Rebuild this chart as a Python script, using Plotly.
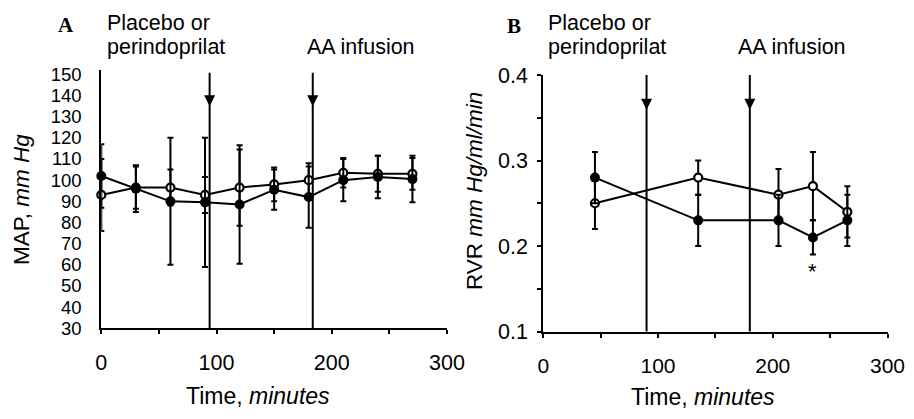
import plotly.graph_objects as go

# ---------------- data ----------------
time_a = [0, 30, 60, 90, 120, 150, 180, 210, 240, 270]
map_filled = [102, 96, 90, 89.5, 88.5, 95.5, 92, 100, 101.5, 100.5]
map_filled_err = [15, 11, 30, 30.5, 28, 9.5, 14.5, 10, 10, 11]
map_open = [93, 96.5, 96.5, 93, 96.5, 98, 100, 103.5, 103, 103]
map_open_err = [17, 10, 8.5, 8.5, 18, 8, 8, 7, 8.5, 7.5]
arrow_times_a = [94, 183.5]

time_b = [45, 135, 205, 235, 265]
rvr_filled = [0.28, 0.23, 0.23, 0.21, 0.23]
rvr_filled_err = [0.03, 0.03, 0.03, 0.02, 0.03]
rvr_open = [0.25, 0.28, 0.26, 0.27, 0.24]
rvr_open_err = [0.03, 0.02, 0.03, 0.04, 0.03]
arrow_times_b = [90, 180]
sig_index_b = [3]

# ---------------- layout helpers ----------------
# the page body adds an 8px margin on every side; keep the figure inside the window
OX, OY = 8, 8
W, H = 914 - 2 * OX, 419 - 2 * OY
def px(x):
    return (x - OX) / W
def py(y):
    return 1 - (y - OY) / H

FONT = "Liberation Sans, Arial, sans-serif"
SERIF = "Liberation Serif, Times New Roman, serif"
range_a = [30, 152]
range_b = [0.1, 0.4]

fig = go.Figure()

def add_series(x, y, err, filled, xa, ya):
    fig.add_trace(go.Scatter(
        x=x, y=y, xaxis=xa, yaxis=ya, mode="lines+markers",
        line=dict(color="black", width=2),
        marker=dict(size=10 if filled else 8,
                    color="black" if filled else "white",
                    line=dict(color="black", width=0 if filled else 2.2)),
        error_y=dict(type="data", array=err, visible=True, color="black",
                     thickness=2, width=3),
        cliponaxis=False, showlegend=False))

# open first, filled on top
add_series(time_a, map_open, map_open_err, False, "x", "y")
add_series(time_a, map_filled, map_filled_err, True, "x", "y")
add_series(time_b, rvr_open, rvr_open_err, False, "x2", "y2")
add_series(time_b, rvr_filled, rvr_filled_err, True, "x2", "y2")

# arrows (vertical lines + heads)
for t in arrow_times_a:
    fig.add_shape(type="line", xref="x", yref="y domain", x0=t, x1=t, y0=0, y1=0.99,
                  line=dict(color="black", width=2))
for t in arrow_times_b:
    fig.add_shape(type="line", xref="x2", yref="y2 domain", x0=t, x1=t, y0=0, y1=1,
                  line=dict(color="black", width=2))
head_a = range_a[0] + 0.86 * (range_a[1] - range_a[0])
head_b = range_b[0] + 0.865 * (range_b[1] - range_b[0])
fig.add_trace(go.Scatter(x=arrow_times_a, y=[head_a] * len(arrow_times_a), xaxis="x", yaxis="y",
                         mode="markers", marker=dict(symbol="arrow-down", size=11, color="black"),
                         showlegend=False, cliponaxis=False))
fig.add_trace(go.Scatter(x=arrow_times_b, y=[head_b] * len(arrow_times_b), xaxis="x2", yaxis="y2",
                         mode="markers", marker=dict(symbol="arrow-down", size=11, color="black"),
                         showlegend=False, cliponaxis=False))

# significance asterisk
for i in sig_index_b:
    fig.add_annotation(x=time_b[i], y=rvr_filled[i] - rvr_filled_err[i], xref="x2", yref="y2",
                       text="*", showarrow=False, yanchor="top", yshift=-2,
                       font=dict(family=FONT, size=22, color="black"))

axis_common = dict(showline=True, linecolor="black", linewidth=2, showgrid=False,
                   zeroline=False, automargin=False, ticklabeloverflow="allow",
                   tickfont=dict(family=FONT, size=21.5, color="black"),
                   tickcolor="black", tickwidth=1.5)

fig.update_layout(
    width=W, height=H, margin=dict(l=0, r=0, t=0, b=0, autoexpand=False),
    paper_bgcolor="white", plot_bgcolor="white",
    xaxis=dict(domain=[px(101.3), px(447)], range=[0, 300], anchor="y",
               tickvals=[0, 100, 200, 300], ticks="outside", ticklen=4,
               ticklabelstandoff=10,
               minor=dict(tickvals=[50, 150, 250], ticks="outside", ticklen=4,
                          tickcolor="black", tickwidth=1.5),
               **axis_common),
    yaxis=dict(domain=[py(328.3), py(70.1)], range=range_a, anchor="x",
               dtick=10, tick0=30, ticks="", ticklabelstandoff=14, **axis_common),
    xaxis2=dict(domain=[px(543.3), px(887.5)], range=[0, 300], anchor="y2",
                tickvals=[0, 100, 200, 300], ticks="outside", ticklen=4,
                ticklabelstandoff=10,
                minor=dict(tickvals=[50, 150, 250], ticks="outside", ticklen=4,
                           tickcolor="black", tickwidth=1.5),
                **axis_common),
    yaxis2=dict(domain=[py(331.5), py(75)], range=range_b, anchor="x2",
                tickvals=[0.1, 0.2, 0.3, 0.4], ticktext=["0.1", "0.2", "0.3", "0.4"],
                ticks="outside", ticklen=4, ticklabelstandoff=5,
                minor=dict(tickvals=[0.15, 0.25, 0.35], ticks="outside", ticklen=4,
                           tickcolor="black", tickwidth=1.5),
                **axis_common),
)
fig.update_xaxes(tickfont=dict(family=FONT, size=21, color="black"), selector=dict(anchor="y2"))
fig.update_yaxes(tickfont=dict(family=FONT, size=18.5, color="black"), selector=dict(anchor="x"))

def text(x, y, s, size=21.5, family=FONT, xanchor="left", angle=0):
    fig.add_annotation(x=px(x), y=py(y), xref="paper", yref="paper", text=s,
                       showarrow=False, xanchor=xanchor, yanchor="middle", textangle=angle,
                       font=dict(family=family, size=size, color="black"))

# panel labels & headers
text(66.5, 25, "<b>A</b>", size=21, family=SERIF, xanchor="center")
text(514, 26, "<b>B</b>", size=21, family=SERIF, xanchor="center")
for x0, xa in [(107, 307), (548, 738)]:
    text(x0 - 2, 23, "Placebo or")
    text(x0 - 2, 47, "perindoprilat")
    text(xa - 2, 47, "AA infusion")

# axis titles
text(258, 396, "Time, <i>minutes</i>", size=23, xanchor="center")
text(703, 397, "Time, <i>minutes</i>", size=23, xanchor="center")
text(21, 200, "MAP, <i>mm Hg</i>", size=22.5, xanchor="center", angle=-90)
text(475, 191, "RVR <i>mm Hg/ml/min</i>", size=22.5, xanchor="center", angle=-90)

fig.write_html("out.html")
